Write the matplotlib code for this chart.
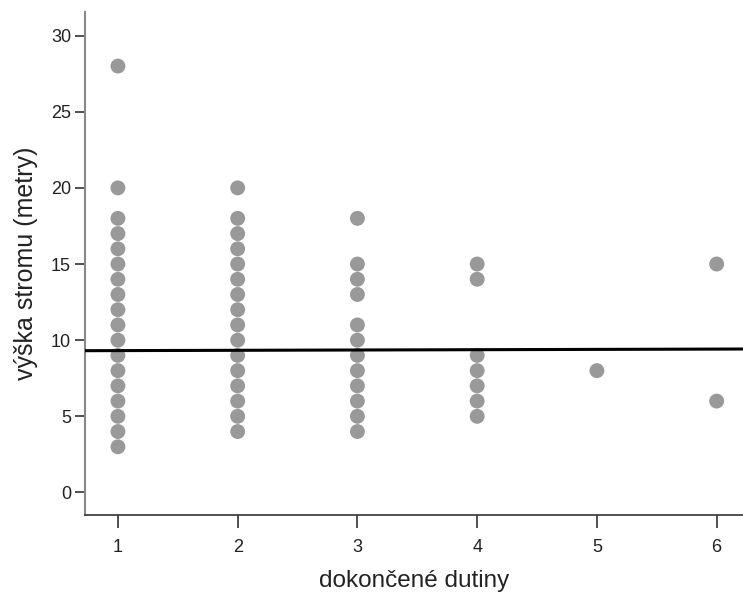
import matplotlib
matplotlib.use("Agg")
import matplotlib.pyplot as plt
import numpy as np

plt.rcParams['font.family'] = ['Liberation Sans', 'DejaVu Sans']

# Data: completed cavities (x) vs tree height in metres (y)
heights_1 = [28, 20, 18, 17, 16, 15, 14, 13, 12, 11, 10, 9, 8, 7, 6, 5, 4, 3]
heights_2 = [20, 18, 17, 16, 15, 14, 13, 12, 11, 10, 9, 8, 7, 6, 5, 4]
heights_3 = [18, 15, 14, 13, 11, 10, 9, 8, 7, 6, 5, 4]
heights_4 = [15, 14, 9, 8, 7, 6, 5]
heights_5 = [8]
heights_6 = [15, 6]
categories = [1, 2, 3, 4, 5, 6]
groups = [heights_1, heights_2, heights_3, heights_4, heights_5, heights_6]

# Fit line
fit_intercept = 9.295
fit_slope = 0.02

x_ticks = [1, 2, 3, 4, 5, 6]
y_ticks = [0, 5, 10, 15, 20, 25, 30]

fig = plt.figure(figsize=(7.43, 5.93), dpi=100)
ax = fig.add_axes([85/743, (593-515)/593, 1 - 85/743, (515-12)/593])

xs = []
ys = []
for c, g in zip(categories, groups):
    xs.extend([c] * len(g))
    ys.extend(g)
ax.scatter(xs, ys, s=115, color='#999999', edgecolors='none', zorder=2)

xlim = (0.725, 6.22)
ax.set_xlim(*xlim)
ax.set_ylim(-1.48, 31.55)
lx = np.array(xlim)
ax.plot(lx, fit_intercept + fit_slope * lx, color='#000000', linewidth=2.2, zorder=3)

ax.set_xticks(x_ticks)
ax.set_yticks(y_ticks)
ax.tick_params(axis='both', direction='out', width=1.2, labelsize=13,
               color='#333333', labelcolor='#222222')
ax.tick_params(axis='x', length=9, pad=8)
ax.tick_params(axis='y', length=7, pad=3)

for s in ['top', 'right']:
    ax.spines[s].set_visible(False)
ax.spines['left'].set_color('#888888')
ax.spines['left'].set_linewidth(1.5)
ax.spines['bottom'].set_color('#333333')
ax.spines['bottom'].set_linewidth(1.2)

ax.set_xlabel('dokončené dutiny', fontsize=17.5, color='#222222', labelpad=10.5)
ax.set_ylabel('výška stromu (metry)', fontsize=18, color='#222222', labelpad=9)

fig.savefig('out.png', dpi=100)
